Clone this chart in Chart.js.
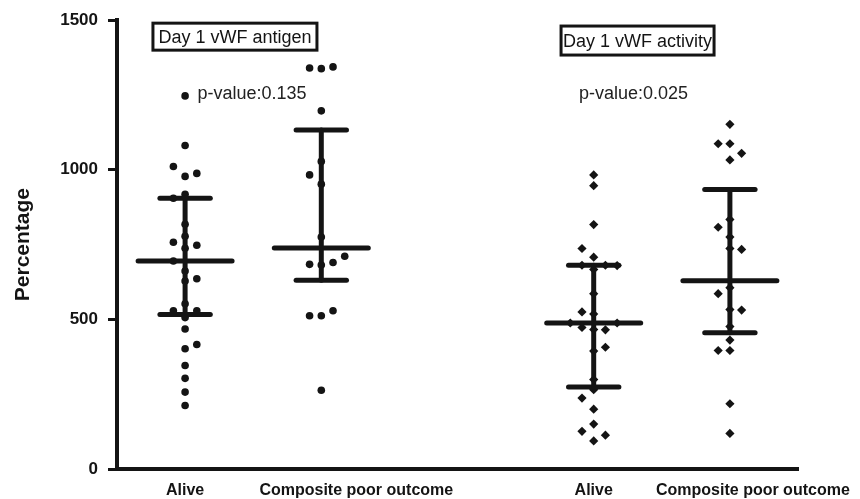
<!DOCTYPE html>
<html><head><meta charset="utf-8">
<script src="https://cdn.jsdelivr.net/npm/chart.js@4/dist/chart.umd.min.js"></script>
<style>html,body{margin:0;padding:0;background:#fff}#wrap{width:860px;height:499px;position:relative}</style>
</head><body><div id="wrap"><canvas id="c"></canvas></div>
<script>
// ---------- data ----------
const categories = ['Alive', 'Composite poor outcome', 'Alive', 'Composite poor outcome'];
const panelTitles = ['Day 1 vWF antigen', 'Day 1 vWF activity'];
const pValues = ['p-value:0.135', 'p-value:0.025'];
const yTicks = [0, 500, 1000, 1500];
const yLabel = 'Percentage';

const antigenAlive = [1247, 1081, 978, 1011, 988, 918, 905, 818, 778, 738, 748, 758, 628, 636, 662, 695, 506, 529, 529, 552, 468, 402, 416, 346, 303, 257, 212];
const antigenComposite = [1338, 1340, 1344, 1197, 1028, 952, 983, 775, 682, 690, 684, 711, 512, 512, 529, 263];
const activityAlive = [947, 983, 817, 708, 737, 681, 681, 680, 667, 586, 518, 525, 466, 465, 473, 488, 488, 394, 407, 299, 265, 237, 200, 150, 94, 113, 126];
const activityComposite = [1152, 1087, 1087, 1055, 1033, 834, 808, 775, 737, 734, 606, 586, 533, 531, 476, 431, 396, 396, 218, 119];

const centerValues = [695, 739, 488, 629];
const upperValues = [905, 1133, 681, 934];
const lowerValues = [516, 631, 274, 455];

// ---------- layout helpers ----------
const groups = [antigenAlive, antigenComposite, activityAlive, activityComposite];
const markerShape = ['circle', 'circle', 'rectRot', 'rectRot'];
const markerSize = [3.8, 3.8, 4.6, 4.6];
const slot = i => i + 1 + (i >= 2 ? 1 : 0);   // gap between the two panels
const swarmStep = 0.086;     // x-units between swarm columns
const minGap = 34;           // value-units two dots in one column must be apart
const meanHalf = 0.345, capHalf = 0.185;
const labelShift = [0, 35, 0, 23];
const ink = '#141414';

function swarm(values, center) {
  const placed = []; let pref = -1;
  return values.map(v => {
    for (let k = 0; k < 40; k++) {
      const m = Math.ceil(k / 2);
      const col = k === 0 ? 0 : (k % 2 === 1 ? pref * m : -pref * m);
      if (!placed.some(p => p.col === col && Math.abs(p.v - v) < minGap)) {
        placed.push({col, v});
        if (col !== 0) pref = -pref;
        return {x: center + col * swarmStep, y: v};
      }
    }
    return {x: center, y: v};
  });
}

const datasets = [];
groups.forEach((vals, i) => {
  const c = slot(i);
  const segs = [
    [{x: c - meanHalf, y: centerValues[i]}, {x: c + meanHalf, y: centerValues[i]}],
    [{x: c - capHalf, y: upperValues[i]}, {x: c + capHalf, y: upperValues[i]}],
    [{x: c - capHalf, y: lowerValues[i]}, {x: c + capHalf, y: lowerValues[i]}],
    [{x: c, y: lowerValues[i]}, {x: c, y: upperValues[i]}]
  ];
  segs.forEach(s => datasets.push({
    type: 'line', data: s, showLine: true, borderColor: ink, borderWidth: 5,
    borderCapStyle: 'round', pointRadius: 0, order: 0
  }));
  datasets.push({
    type: 'scatter', data: swarm(vals, c), pointStyle: markerShape[i],
    pointRadius: markerSize[i], pointBorderWidth: 0, backgroundColor: ink,
    borderColor: ink, order: 1
  });
});

const annotations = [
  {kind: 'box', text: panelTitles[0], x: 1.366, y: 1445, w: 164, h: 27},
  {kind: 'box', text: panelTitles[1], x: 4.322, y: 1432, w: 153, h: 29},
  {kind: 'text', text: pValues[0], x: 1.491, y: 1254},
  {kind: 'text', text: pValues[1], x: 4.292, y: 1254}
];

const FONT = '"Liberation Sans", Arial, sans-serif';

const textPlugin = {
  id: 'panelText',
  afterDraw(chart) {
    const {ctx, scales: {x, y}, chartArea} = chart;
    ctx.save();
    ctx.textAlign = 'center'; ctx.textBaseline = 'middle';
    ctx.fillStyle = ink;
    ctx.font = 'bold 16px ' + FONT;
    categories.forEach((c, i) => {
      ctx.fillText(c, x.getPixelForValue(slot(i)) + labelShift[i], chartArea.bottom + 22);
    });
    ctx.font = '18px ' + FONT;
    annotations.forEach(a => {
      const px = x.getPixelForValue(a.x), py = y.getPixelForValue(a.y);
      if (a.kind === 'box') {
        ctx.fillStyle = '#fff';
        ctx.fillRect(px - a.w / 2, py - a.h / 2, a.w, a.h);
        ctx.lineWidth = 3; ctx.strokeStyle = ink;
        ctx.strokeRect(px - a.w / 2, py - a.h / 2, a.w, a.h);
        ctx.fillStyle = ink;
        ctx.fillText(a.text, px, py + 1);
      } else {
        ctx.fillStyle = '#222';
        ctx.fillText(a.text, px, py);
      }
    });
    ctx.restore();
  }
};

new Chart(document.getElementById('c'), {
  type: 'scatter',
  data: {datasets},
  plugins: [textPlugin],
  options: {
    responsive: true, maintainAspectRatio: false, animation: false,
    layout: {padding: {top: 18, right: 62, bottom: 0, left: 0}},
    plugins: {legend: {display: false}, tooltip: {enabled: false}},
    scales: {
      x: {
        type: 'linear', min: 0.5, max: 5.5,
        grid: {display: false},
        ticks: {display: false},
        border: {display: true, width: 4, color: ink},
        afterFit: s => { s.height = 30; }
      },
      y: {
        type: 'linear', min: 0, max: 1500,
        afterBuildTicks: s => { s.ticks = yTicks.map(v => ({value: v})); },
        grid: {drawOnChartArea: false, drawTicks: true, tickLength: 9, tickWidth: 3, tickColor: ink},
        border: {display: true, width: 4, color: ink},
        ticks: {color: ink, padding: 10, font: {family: FONT, size: 17, weight: 'bold'},
                callback: v => String(v)},
        title: {display: true, text: yLabel, color: ink, padding: {top: 11, bottom: 0},
                font: {family: FONT, size: 21, weight: 'bold'}},
        afterFit: s => { s.width = 117; }
      }
    }
  }
});
</script></body></html>
